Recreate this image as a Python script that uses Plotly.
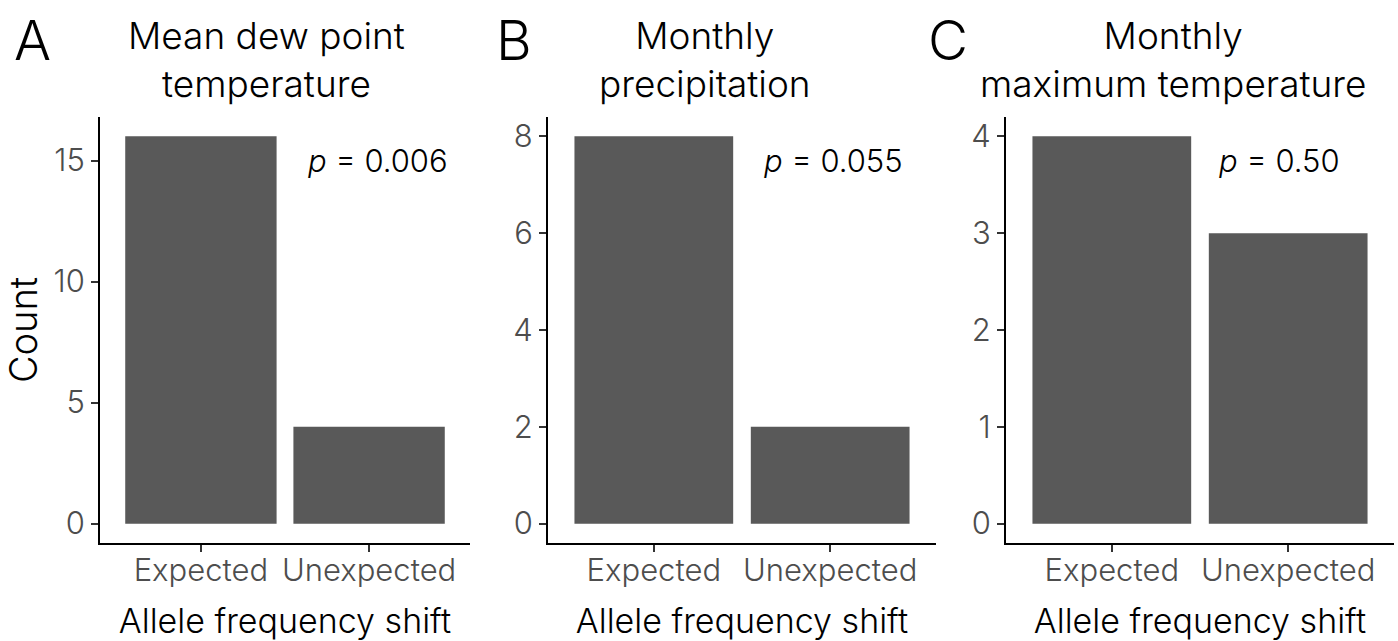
import plotly.graph_objects as go

categories = ["Expected", "Unexpected"]
counts_a = [16, 4]
counts_b = [8, 2]
counts_c = [4, 3]
titles = ["Mean dew point<br>temperature", "Monthly<br>precipitation", "Monthly<br>maximum temperature"]
letters = ["A", "B", "C"]
pvals = ["<i>p</i> = 0.006", "<i>p</i> = 0.055", "<i>p</i> = 0.50"]
ytick_a = [0, 5, 10, 15]
ytick_b = [0, 2, 4, 6, 8]
ytick_c = [0, 1, 2, 3, 4]

W, H = 1398, 641
FONT = "Inter"
WT = 300
BAR = "#595959"
TICKC = "#4D4D4D"

xdoms = [(100 / W, 470 / W), (548 / W, 936 / W), (1006 / W, 1394 / W)]
ydom = (1 - 543 / H, 1 - 117 / H)

fig = go.Figure()
series = [counts_a, counts_b, counts_c]
ticks = [ytick_a, ytick_b, ytick_c]
title_x = [266, 705, 1173]
letter_x = [32, 514, 948]
p_x = [2.05, 2.02, 1.95]

for i, vals in enumerate(series):
    n = "" if i == 0 else str(i + 1)
    fig.add_trace(go.Bar(x=categories, y=vals, marker=dict(color=BAR, line=dict(width=0)),
                         width=0.9, xaxis="x" + n, yaxis="y" + n, showlegend=False,
                         hoverinfo="x+y"))
    ymax = max(vals)
    axis_common = dict(showline=True, linecolor="black", linewidth=2, showgrid=False,
                       zeroline=False, ticks="outside", ticklen=7, tickwidth=1.5,
                       tickcolor="#333333",
                       tickfont=dict(family=FONT, size=31, color=TICKC, weight=WT))
    fig.layout["xaxis" + n] = dict(axis_common, domain=list(xdoms[i]), anchor="y" + n,
                                   range=[-0.6, 1.6], type="category", ticklabelstandoff=-8,
                                   title=dict(text="Allele frequency shift", standoff=22,
                                              font=dict(family=FONT, size=34, color="black", weight=WT)))
    ycfg = dict(axis_common, domain=list(ydom), anchor="x" + n,
                range=[-0.05 * ymax, 1.05 * ymax], tickvals=ticks[i])
    if i == 0:
        ycfg["title"] = dict(text="Count", standoff=10,
                             font=dict(family=FONT, size=38, color="black", weight=WT))
    fig.layout["yaxis" + n] = ycfg
    fig.add_annotation(text=titles[i], x=title_x[i] / W, y=1 - 11 / H, xref="paper", yref="paper",
                       xanchor="center", yanchor="top", showarrow=False,
                       font=dict(family=FONT, size=37, color="black", weight=WT))
    fig.add_annotation(text=letters[i], x=letter_x[i] / W, y=1 - 5 / H, xref="paper", yref="paper",
                       xanchor="center", yanchor="top", showarrow=False,
                       font=dict(family=FONT, size=55, color="black", weight=WT))
    fig.add_annotation(text=pvals[i], x=p_x[i] - 1, y=ymax * 0.9375, xref="x" + n, yref="y" + n,
                       xanchor="center", yanchor="middle", showarrow=False,
                       font=dict(family=FONT, size=31, color="black", weight=WT))

fig.update_layout(width=W, height=H, margin=dict(l=0, r=0, t=0, b=0),
                  plot_bgcolor="white", paper_bgcolor="white", bargap=0.1,
                  font=dict(family=FONT))
fig.write_html("out.html")
